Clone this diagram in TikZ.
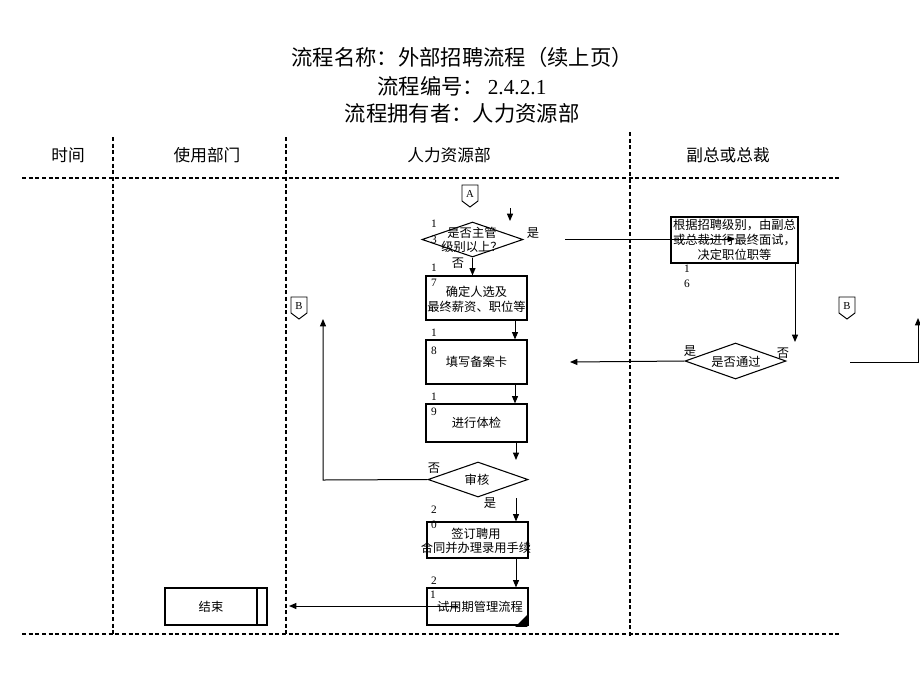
\documentclass[tikz,border=0pt]{standalone}
\usepackage{fontspec}
\setmainfont{Liberation Serif}
\newfontfamily\cjk{Noto Sans CJK SC}
\usetikzlibrary{arrows.meta,shapes.geometric}
\begin{document}
\begin{tikzpicture}[x=0.75pt,y=-0.75pt,
  box/.style={draw,line width=0.9pt,rectangle,inner sep=0pt,font=\cjk\fontsize{9.2pt}{11pt}\selectfont,align=center},
  dia/.style={draw,line width=0.8pt,diamond,inner sep=0pt},
  txt/.style={font=\cjk\fontsize{9.2pt}{11pt}\selectfont,align=center,inner sep=0pt},
  num/.style={font=\fontsize{8.5pt}{10pt}\selectfont,inner sep=0pt},
  hdr/.style={font=\cjk\fontsize{12.5pt}{14pt}\selectfont,inner sep=0pt},
  ttl/.style={font=\cjk\fontsize{16pt}{19pt}\selectfont,inner sep=0pt},
  lane/.style={line width=0.9pt,dash pattern=on 3pt off 2pt},
  arr/.style={line width=0.75pt,-{Triangle[length=5.5pt,width=4.5pt]}},
  ln/.style={line width=0.75pt}]
\useasboundingbox (0,0) rectangle (920,690);
% titles
\node[ttl] (t1) at (462,57) {流程名称：外部招聘流程（续上页）};
\node[ttl] (t2) at (462,86) {流程编号：\,{\rmfamily 2.4.2.1}};
\node[ttl] (t3) at (462,113) {流程拥有者：人力资源部};
% headers
\node[hdr] (h1) at (68,155) {时间};
\node[hdr] (h2) at (207,155) {使用部门};
\node[hdr] (h3) at (449,155) {人力资源部};
\node[hdr] (h4) at (728,155) {副总或总裁};
% lanes
\draw[lane] (22,178) -- (840,178);
\draw[lane] (22,634) -- (840,634);
\draw[lane] (113,137) -- (113,636);
\draw[lane] (286,137) -- (286,636);
\draw[lane] (630,132) -- (630,636);
% connector A
\draw[line width=0.7pt] (462,185) -- (462,201) -- (470,207) -- (478,201) -- (478,185) -- cycle;
\node[num,font=\fontsize{8pt}{9pt}\selectfont] (cA) at (470,194) {A};
\coordinate (sa1) at (510,208);
\coordinate (sa2) at (510,221);
\draw[arr] (sa1) -- (sa2);
% connector B left
\draw[line width=0.7pt] (291,297) -- (291,313) -- (299,319) -- (307,313) -- (307,297) -- cycle;
\node[num,font=\fontsize{8pt}{9pt}\selectfont] (cB1) at (299,306) {B};
% connector B right
\draw[line width=0.7pt] (839,297) -- (839,313) -- (847,319) -- (855,313) -- (855,297) -- cycle;
\node[num,font=\fontsize{8pt}{9pt}\selectfont] (cB2) at (847,306) {B};
% decision 1
\node[dia,minimum width=75.75pt,minimum height=26.25pt] (d1) at (472.5,239.5) {};
\node[txt] (d1t) at (472,240) {是否主管\\级别以上？};
\node[num] (n13a) at (434,224) {1};
\node[num] (n13b) at (434,240) {3};
\node[txt] (d1y) at (533,233) {是};
\node[txt] (d1n) at (458,263) {否};
% box 17
\node[box,minimum width=75.75pt,minimum height=33pt] (b17) at (476.5,298) {};
\node[txt] (b17t) at (476.5,299) {确定人选及\\最终薪资、职位等};
\node[num] (n17a) at (434,268) {1};
\node[num] (n17b) at (434,283) {7};
% box 18
\node[box,minimum width=75.75pt,minimum height=33pt] (b18) at (476.5,362) {填写备案卡};
\node[num] (n18a) at (434,333) {1};
\node[num] (n18b) at (434,351) {8};
% box 19
\node[box,minimum width=75.75pt,minimum height=28.5pt] (b19) at (476.5,423) {进行体检};
\node[num] (n19a) at (434,397) {1};
\node[num] (n19b) at (434,412) {9};
% decision review
\node[dia,minimum width=75pt,minimum height=26.25pt] (d2) at (478,479.5) {};
\node[txt] (d2t) at (477,480) {审核};
\node[txt] (d2n) at (434,468) {否};
\node[txt] (d2y) at (490,503) {是};
% box 20
\node[box,minimum width=75.75pt,minimum height=27pt] (b20) at (477.5,540) {};
\node[txt] (b20t) at (476,541) {签订聘用\\合同并办理录用手续};
\node[num] (n20a) at (434,510) {2};
\node[num] (n20b) at (434,525) {0};
% box 21
\node[box,minimum width=75.75pt,minimum height=27.75pt] (b21) at (477.5,606.5) {};
\node[txt] (b21t) at (480,607) {试用期管理流程};
\fill ([shift={(-1pt,-1pt)}]b21.south east) -- ++(-9pt,0) -- ++(9pt,9pt) -- cycle;
\node[num] (n21a) at (434,581) {2};
\node[num] (n21b) at (433,595) {1};
% end
\node[box,minimum width=76.5pt,minimum height=27.75pt] (be) at (216,606.5) {};
\node[txt] (bet) at (211,606.5) {结束};
\draw[line width=0.8pt] (257,588) -- (257,625);
% box 16
\node[box,minimum width=95.25pt,minimum height=34.5pt] (b16) at (734.5,240) {根据招聘级别，由副总\\或总裁进行最终面试，\\决定职位职等};
\node[num] (n16a) at (687,269) {1};
\node[num] (n16b) at (687,284) {6};
% decision pass
\node[dia,minimum width=75.75pt,minimum height=27pt] (d3) at (735.5,361) {};
\node[txt] (d3t) at (736,362) {是否通过};
\node[txt] (d3y) at (690,351) {是};
\node[txt] (d3n) at (783,353) {否};
% connectors
\coordinate (c1a) at (565,239);
\coordinate (c1b) at (735,239);
\draw[arr] (c1a) -- (c1b);
\coordinate (c2a) at (795,263);
\coordinate (c2b) at (795,342);
\draw[arr] (c2a) -- (c2b);
\coordinate (c3b) at (570,362);
\draw[arr] (d3.west) -- (c3b);
\coordinate (c4a) at (850,362);
\coordinate (c4b) at (918,362);
\coordinate (c4c) at (918,318);
\draw[arr] (c4a) -- (c4b) -- (c4c);
\draw[arr] (d1.south) -- (d1.south |- b17.north);
\coordinate (col) at (515,0);
\draw[arr] (b17.south -| col) -- (b18.north -| col);
\draw[arr] (b18.south -| col) -- (b19.north -| col);
\coordinate (c5b) at (516,460);
\draw[arr] (b19.south -| c5b) -- (c5b);
\coordinate (c6) at (323,480);
\coordinate (c6b) at (323,319);
\draw[arr] (d2.west) -- (c6) -- (c6b);
\coordinate (c7a) at (516,498);
\draw[arr] (c7a) -- (c7a |- b20.north);
\draw[arr] (b20.south -| c7a) -- (b21.north -| c7a);
\coordinate (c8a) at (458,606);
\coordinate (c8b) at (289,606);
\draw[arr] (c8a) -- (c8b);
\end{tikzpicture}
\end{document}
